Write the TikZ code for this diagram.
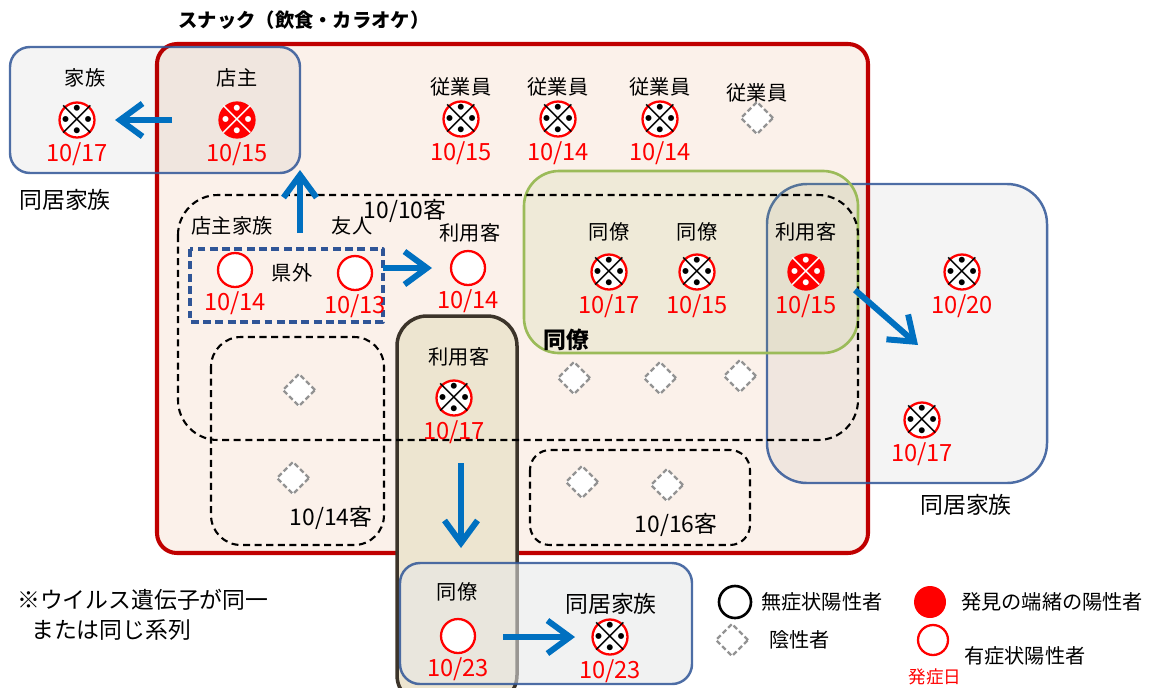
\documentclass[tikz,border=0pt]{standalone}
\usepackage{fontspec}
\setmainfont{Noto Sans CJK JP}
\usetikzlibrary{arrows.meta,shapes.geometric}
\definecolor{shopred}{RGB}{192,0,0}
\definecolor{shopfill}{RGB}{251,241,234}
\definecolor{famblue}{RGB}{47,85,151}
\definecolor{flowblue}{RGB}{0,112,192}
\definecolor{colgreen}{RGB}{155,187,89}
\definecolor{pillarfill}{RGB}{237,229,208}
\definecolor{pillarline}{RGB}{60,52,42}
\definecolor{homefill}{RGB}{230,232,232}
\begin{document}
\begin{tikzpicture}[x=0.02cm,y=-0.02cm,line join=round,
	lab/.style={font=\fontsize{11.5}{12}\selectfont},
	big/.style={font=\fontsize{13}{14}\selectfont},
	day/.style={text=red,font=\fontsize{13.5}{13.5}\selectfont,label distance=-1.5pt},
	pcase/.style={circle,draw=red,line width=1.3pt,fill=white,minimum size=0.7cm,inner sep=0pt,font=\fontsize{22.5}{22.5}\selectfont},
	scase/.style={pcase,fill=red,text=white},
	ocase/.style={circle,draw=red,line width=1.3pt,fill=white,minimum size=0.68cm,inner sep=0pt},
	neg/.style={diamond,draw=gray!85,dash pattern=on 2.8pt off 1.6pt,line width=1.3pt,fill=white,minimum size=0.66cm,inner sep=0pt},
	grp/.style={draw=black,dash pattern=on 4pt off 2.6pt,line width=1.2pt},
	fam/.style={draw=famblue,draw opacity=0.85,line width=1.4pt,fill=black,fill opacity=0.045},
	flow/.style={draw=flowblue,line width=3.4pt,-{Straight Barb[length=0.45cm,width=0.66cm]}}]
	\useasboundingbox (0,0) rectangle (1151,687);
	\draw[shopred,line width=2.3pt,fill=shopfill,rounded corners=0.4cm] (157,44) rectangle (868,553);
	\draw[pillarline,line width=2pt,fill=pillarfill,rounded corners=0.6cm] (397,316) rectangle (517,705);
	\draw[fam,rounded corners=0.4cm] (10,47) rectangle (300,173);
	\draw[fam,rounded corners=0.8cm] (767,184) rectangle (1047,483);
	\draw[fam,fill=homefill,fill opacity=0.55,rounded corners=0.4cm] (400,563) rectangle (692,684);
	\draw[colgreen,line width=1.5pt,fill=colgreen,fill opacity=0.12,rounded corners=0.7cm] (524,171) rectangle (858,353);
	\draw[grp,rounded corners=0.8cm] (178,195) rectangle (858,440);
	\draw[grp,rounded corners=0.6cm] (211,337) rectangle (384,545);
	\draw[grp,rounded corners=0.4cm] (530,450) rectangle (750,545);
	\draw[famblue,line width=1.8pt,dash pattern=on 4.5pt off 2.5pt] (190,249) rectangle (383,322);
	\node[font=\bfseries\fontsize{11}{12}\selectfont] (title) at (304,20) {スナック（飲食・カラオケ）};
	\foreach \n/\t/\x/\y in {tFam/家族/85/78,tOwn/店主/237/78,tEmpA/従業員/461/87,tEmpB/従業員/558/87,tEmpC/従業員/660/87,tEmpD/従業員/757/93,tOwnFam/店主家族/232/226,tFriend/友人/352/226,tOut/県外/292/273,tCusA/利用客/470/233,tColA/同僚/609/232,tColB/同僚/697/232,tCusB/利用客/806/232,tCusC/利用客/459/357,tColC/同僚/457/592}
	\node[lab] (\n) at (\x,\y) {\t};
	\foreach \n/\t/\x/\y in {tHomeA/同居家族/65/200,tHomeB/同居家族/966/505,tHomeC/同居家族/611/604,tG10/{10/10客}/405/211,tG14/{10/14客}/331/518,tG16/{10/16客}/676/525}
	\node[big] (\n) at (\x,\y) {\t};
	\node[big,font=\bfseries\fontsize{13}{14}\selectfont] (tColG) at (566,340) {同僚};
	\node[big,anchor=west] (note1) at (11,600) {※ウイルス遺伝子が同一};
	\node[big,anchor=west] (note2) at (25,630) {または同じ系列};
	\foreach \n/\x/\y/\d in {fam/77/120/{10/17},empA/461/119/{10/15},empB/558/119/{10/14},empC/660/119/{10/14},colA/609/272/{10/17},colB/697/272/{10/15},homeA/962/272/{10/20},homeB/922/420/{10/17},cusC/454/398/{10/17},homeC/610/637/{10/23}}
	\node[pcase,label={[day]below:\d}] (\n) at (\x,\y) {\makebox[0pt]{※}};
	\foreach \n/\x/\y/\d in {own/237/120/{10/15},cusB/806/272/{10/15}}
	\node[scase,label={[day]below:\d}] (\n) at (\x,\y) {\makebox[0pt]{※}};
	\foreach \n/\x/\y/\d in {ownFam/235/270/{10/14},friend/355/273/{10/13},cusA/468/268/{10/14},colC/458/636/{10/23}}
	\node[ocase,label={[day]below:\d}] (\n) at (\x,\y) {};
	\foreach \n/\x/\y in {empD/757/118,negA/299/390,negB/293/478,negC/574/378,negD/660/378,negE/740/376,negF/582/482,negG/667/485}
	\node[neg] (\n) at (\x,\y) {};
	\path
	(172,120) coordinate (A1) (115,120) coordinate (B1)
	(300,233) coordinate (A2) (300,170) coordinate (B2)
	(383,268) coordinate (A3) (432,268) coordinate (B3)
	(461,463) coordinate (A4) (461,548) coordinate (B4)
	(855,290) coordinate (A5) (918,345) coordinate (B5)
	(503,637) coordinate (A6) (575,637) coordinate (B6)
	;
	\foreach \s/\e in {A1/B1,A2/B2,A3/B3,A4/B4,A5/B5,A6/B6}
	\draw[flow] (\s)--(\e);
	\node[circle,draw=black,line width=1.5pt,minimum size=0.64cm] (lgA) at (735,602) {};
	\node[lab,anchor=west] (lgAt) at (755,602) {無症状陽性者};
	\node[circle,fill=red,minimum size=0.64cm] (lgB) at (930,602) {};
	\node[lab,anchor=west] (lgBt) at (955,602) {発見の端緒の陽性者};
	\node[neg] (lgC) at (732,640) {};
	\node[lab,anchor=west] (lgCt) at (763,640) {陰性者};
	\node[ocase,minimum size=0.6cm] (lgD) at (933,640) {};
	\node[lab,anchor=west] (lgDt) at (958,656) {有症状陽性者};
	\node[text=red,font=\fontsize{10}{10}\selectfont] (lgDd) at (935,677) {発症日};
\end{tikzpicture}
\end{document}
